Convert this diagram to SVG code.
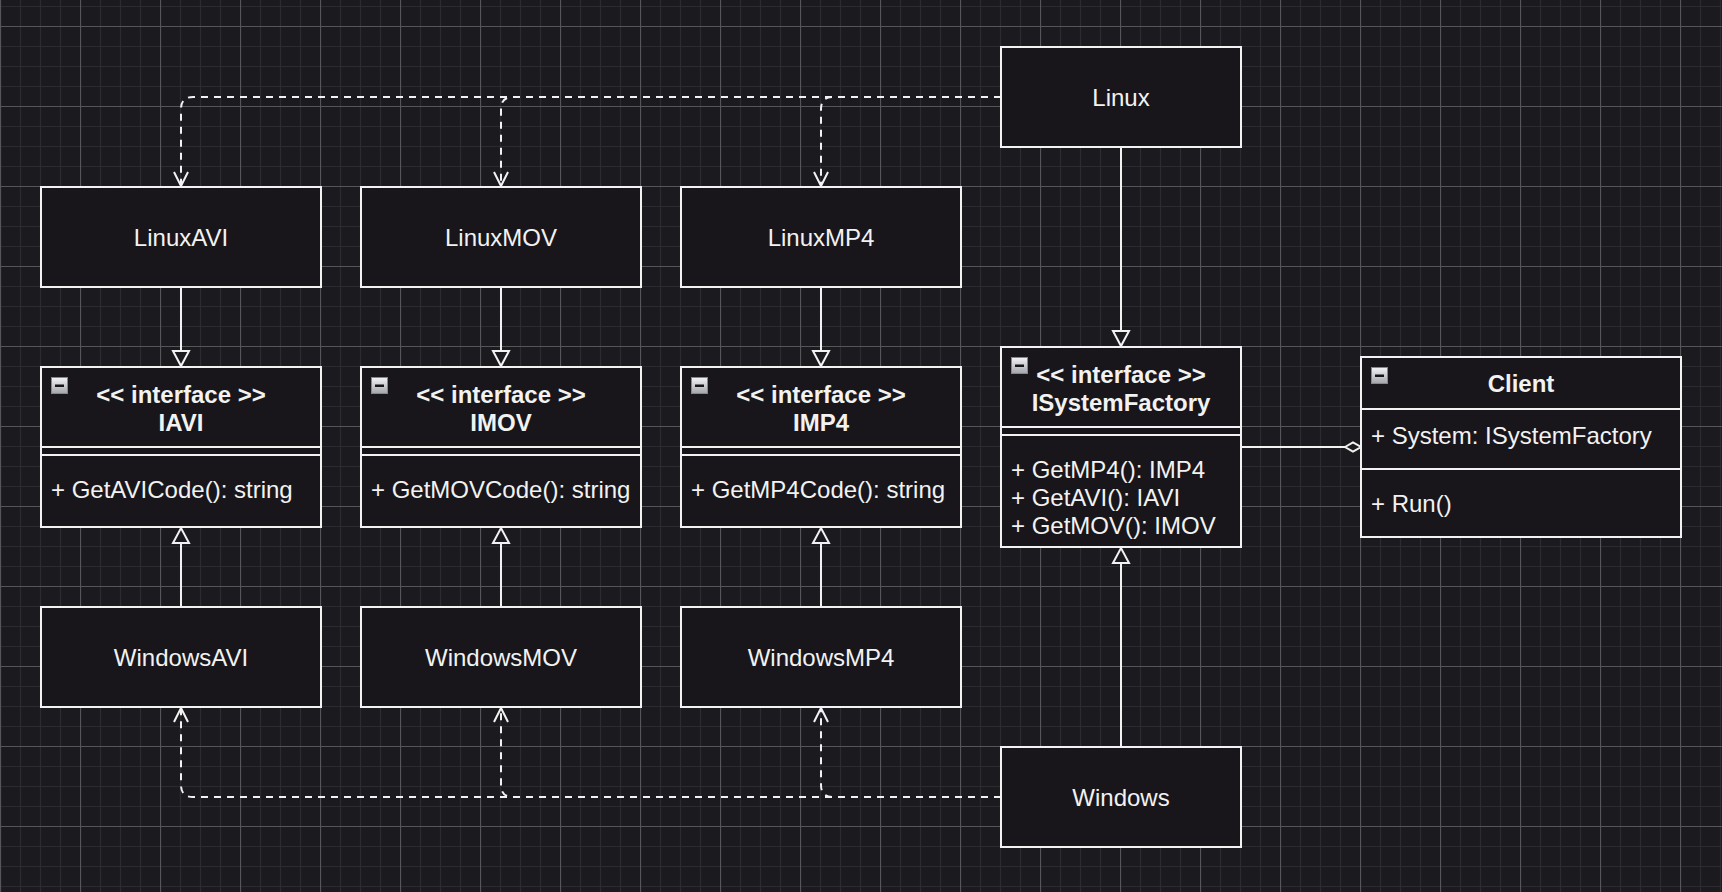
<svg xmlns="http://www.w3.org/2000/svg" width="1722" height="892" viewBox="0 0 1722 892">
<defs>
<style>
.box{fill:#18161b;stroke:#f2f2f2;stroke-width:2}
.ln{fill:none;stroke:#f2f2f2;stroke-width:2}
.dash{fill:none;stroke:#f2f2f2;stroke-width:2;stroke-dasharray:7 6}
.tri{fill:#1b1a1f;stroke:#f2f2f2;stroke-width:2;stroke-linejoin:miter}
.open{fill:none;stroke:#f2f2f2;stroke-width:2}
.t{font-family:"Liberation Sans",Arial,Helvetica,sans-serif;font-size:24px;fill:#f2f2f2}
.c{text-anchor:middle}
.b{font-weight:bold}
.icon{fill:url(#ig);stroke:#7f8896;stroke-width:1}
.minus{fill:#15151a}
</style>
<linearGradient id="ig" x1="0" y1="0" x2="0" y2="1">
<stop offset="0" stop-color="#f4f4f6"/>
<stop offset="1" stop-color="#a3a5ab"/>
</linearGradient>
<pattern id="grid" width="80" height="80" x="0" y="26" patternUnits="userSpaceOnUse">
<path d="M20.5 0V80M40.5 0V80M60.5 0V80M0 20.5H80M0 40.5H80M0 60.5H80" stroke="#2c2b30" stroke-width="1.2" fill="none"/>
<path d="M0.5 0V80M0 0.5H80" stroke="#56555a" stroke-width="1.2" fill="none"/>
</pattern>
</defs>
<rect width="1722" height="892" fill="#1b1a1f"/>
<rect width="1722" height="892" fill="url(#grid)"/>

<g transform="translate(1 1)">
<g id="connectors">
<path class="dash" d="M1000 96H192Q180 96 180 108V184"/>
<path class="open" d="M173 171L180 185L187 171"/>
<path class="dash" d="M1000 96H512Q500 96 500 108V184"/>
<path class="open" d="M493 171L500 185L507 171"/>
<path class="dash" d="M1000 96H832Q820 96 820 108V184"/>
<path class="open" d="M813 171L820 185L827 171"/>
<path class="dash" d="M1000 796H192Q180 796 180 784V708"/>
<path class="open" d="M173 721L180 707L187 721"/>
<path class="dash" d="M1000 796H512Q500 796 500 784V708"/>
<path class="open" d="M493 721L500 707L507 721"/>
<path class="dash" d="M1000 796H832Q820 796 820 784V708"/>
<path class="open" d="M813 721L820 707L827 721"/>
<path class="ln" d="M180 286V350"/><path class="tri" d="M172 350H188L180 365Z"/>
<path class="ln" d="M500 286V350"/><path class="tri" d="M492 350H508L500 365Z"/>
<path class="ln" d="M820 286V350"/><path class="tri" d="M812 350H828L820 365Z"/>
<path class="ln" d="M180 606V542"/><path class="tri" d="M172 542H188L180 527Z"/>
<path class="ln" d="M500 606V542"/><path class="tri" d="M492 542H508L500 527Z"/>
<path class="ln" d="M820 606V542"/><path class="tri" d="M812 542H828L820 527Z"/>
<path class="ln" d="M1120 146V330"/><path class="tri" d="M1112 330H1128L1120 345Z"/>
<path class="ln" d="M1120 746V562"/><path class="tri" d="M1112 562H1128L1120 547Z"/>
<path class="ln" d="M1240 446H1344"/>
<path class="tri" d="M1344 446L1352 441.5L1360 446L1352 450.5Z"/>
</g>

<g id="Linux"><rect class="box" x="1000" y="46" width="240" height="100"/><text class="t c" x="1120" y="104.5">Linux</text></g>
<g id="LinuxAVI"><rect class="box" x="40" y="186" width="280" height="100"/><text class="t c" x="180" y="244.5">LinuxAVI</text></g>
<g id="LinuxMOV"><rect class="box" x="360" y="186" width="280" height="100"/><text class="t c" x="500" y="244.5">LinuxMOV</text></g>
<g id="LinuxMP4"><rect class="box" x="680" y="186" width="280" height="100"/><text class="t c" x="820" y="244.5">LinuxMP4</text></g>

<g id="IAVI">
<rect class="box" x="40" y="366" width="280" height="160"/>
<path class="ln" d="M40 446H320M40 454H320"/>
<rect class="icon" x="50.5" y="376.5" width="16" height="16"/><rect class="minus" x="54" y="383.5" width="9" height="2.5"/>
<text class="t c b" x="180" y="402">&lt;&lt; interface &gt;&gt;</text>
<text class="t c b" x="180" y="430">IAVI</text>
<text class="t" x="50" y="497">+ GetAVICode(): string</text>
</g>
<g id="IMOV">
<rect class="box" x="360" y="366" width="280" height="160"/>
<path class="ln" d="M360 446H640M360 454H640"/>
<rect class="icon" x="370.5" y="376.5" width="16" height="16"/><rect class="minus" x="374" y="383.5" width="9" height="2.5"/>
<text class="t c b" x="500" y="402">&lt;&lt; interface &gt;&gt;</text>
<text class="t c b" x="500" y="430">IMOV</text>
<text class="t" x="370" y="497">+ GetMOVCode(): string</text>
</g>
<g id="IMP4">
<rect class="box" x="680" y="366" width="280" height="160"/>
<path class="ln" d="M680 446H960M680 454H960"/>
<rect class="icon" x="690.5" y="376.5" width="16" height="16"/><rect class="minus" x="694" y="383.5" width="9" height="2.5"/>
<text class="t c b" x="820" y="402">&lt;&lt; interface &gt;&gt;</text>
<text class="t c b" x="820" y="430">IMP4</text>
<text class="t" x="690" y="497">+ GetMP4Code(): string</text>
</g>
<g id="ISystemFactory">
<rect class="box" x="1000" y="346" width="240" height="200"/>
<path class="ln" d="M1000 426H1240M1000 434H1240"/>
<rect class="icon" x="1010.5" y="356.5" width="16" height="16"/><rect class="minus" x="1014" y="363.5" width="9" height="2.5"/>
<text class="t c b" x="1120" y="382">&lt;&lt; interface &gt;&gt;</text>
<text class="t c b" x="1120" y="410">ISystemFactory</text>
<text class="t" x="1010" y="477">+ GetMP4(): IMP4</text>
<text class="t" x="1010" y="505">+ GetAVI(): IAVI</text>
<text class="t" x="1010" y="533">+ GetMOV(): IMOV</text>
</g>
<g id="Client">
<rect class="box" x="1360" y="356" width="320" height="180"/>
<path class="ln" d="M1360 408H1680M1360 468H1680"/>
<rect class="icon" x="1370.5" y="366.5" width="16" height="16"/><rect class="minus" x="1374" y="373.5" width="9" height="2.5"/>
<text class="t c b" x="1520" y="391">Client</text>
<text class="t" x="1370" y="443">+ System: ISystemFactory</text>
<text class="t" x="1370" y="511">+ Run()</text>
</g>

<g id="WindowsAVI"><rect class="box" x="40" y="606" width="280" height="100"/><text class="t c" x="180" y="664.5">WindowsAVI</text></g>
<g id="WindowsMOV"><rect class="box" x="360" y="606" width="280" height="100"/><text class="t c" x="500" y="664.5">WindowsMOV</text></g>
<g id="WindowsMP4"><rect class="box" x="680" y="606" width="280" height="100"/><text class="t c" x="820" y="664.5">WindowsMP4</text></g>
<g id="Windows"><rect class="box" x="1000" y="746" width="240" height="100"/><text class="t c" x="1120" y="804.5">Windows</text></g>
</g>
</svg>
